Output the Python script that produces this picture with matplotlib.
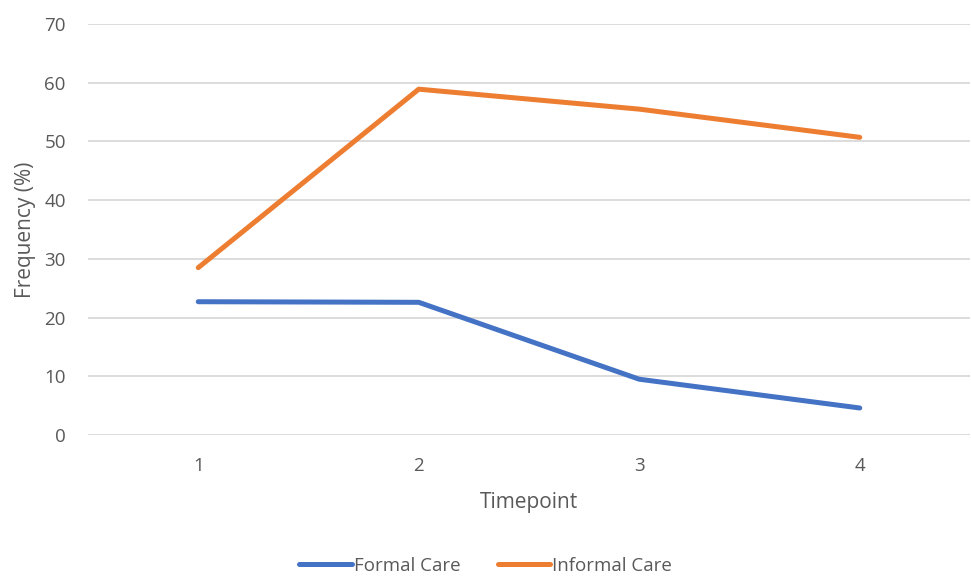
import matplotlib
matplotlib.use("Agg")
import matplotlib.pyplot as plt

timepoints = ["1", "2", "3", "4"]
formal_care = [22.7, 22.6, 9.5, 4.6]
informal_care = [28.5, 58.9, 55.5, 50.7]
yticks = [0, 10, 20, 30, 40, 50, 60, 70]

plt.rcParams['font.family'] = ['Open Sans', 'DejaVu Sans']
txt = '#595959'

fig = plt.figure(figsize=(9.71, 5.77), dpi=100)
ax = fig.add_axes([88/971, 1-435/577, (970-88)/971, (435-24)/577])

x = list(range(1, len(timepoints)+1))
ax.plot(x, formal_care, color='#4472C4', lw=3.6, solid_capstyle='round', solid_joinstyle='round', label='Formal Care')
ax.plot(x, informal_care, color='#ED7D31', lw=3.6, solid_capstyle='round', solid_joinstyle='round', label='Informal Care')

ax.set_xlim(0.5, len(timepoints)+0.5)
ax.set_ylim(0, 70)
ax.set_xticks(x)
ax.set_xticklabels(timepoints)
ax.set_yticks(yticks)
ax.grid(axis='y', color='#D9D9D9', lw=1.3)
ax.set_axisbelow(True)
for s in ax.spines.values():
    s.set_visible(False)
ax.tick_params(length=0, labelsize=13.5, colors=txt, pad=16)
ax.tick_params(axis='y', pad=16)
ax.set_xlabel('Timepoint', fontsize=15, color=txt, labelpad=12)
ax.set_ylabel('Frequency (%)', fontsize=15, color=txt, labelpad=6)

leg = fig.legend(loc='center', bbox_to_anchor=(0.5, 1-566/577), ncol=2, frameon=False,
                 fontsize=13.5, handlelength=2.8, handletextpad=0.1, columnspacing=2.0)
for t in leg.get_texts():
    t.set_color(txt)

fig.savefig('out.png', dpi=100)
